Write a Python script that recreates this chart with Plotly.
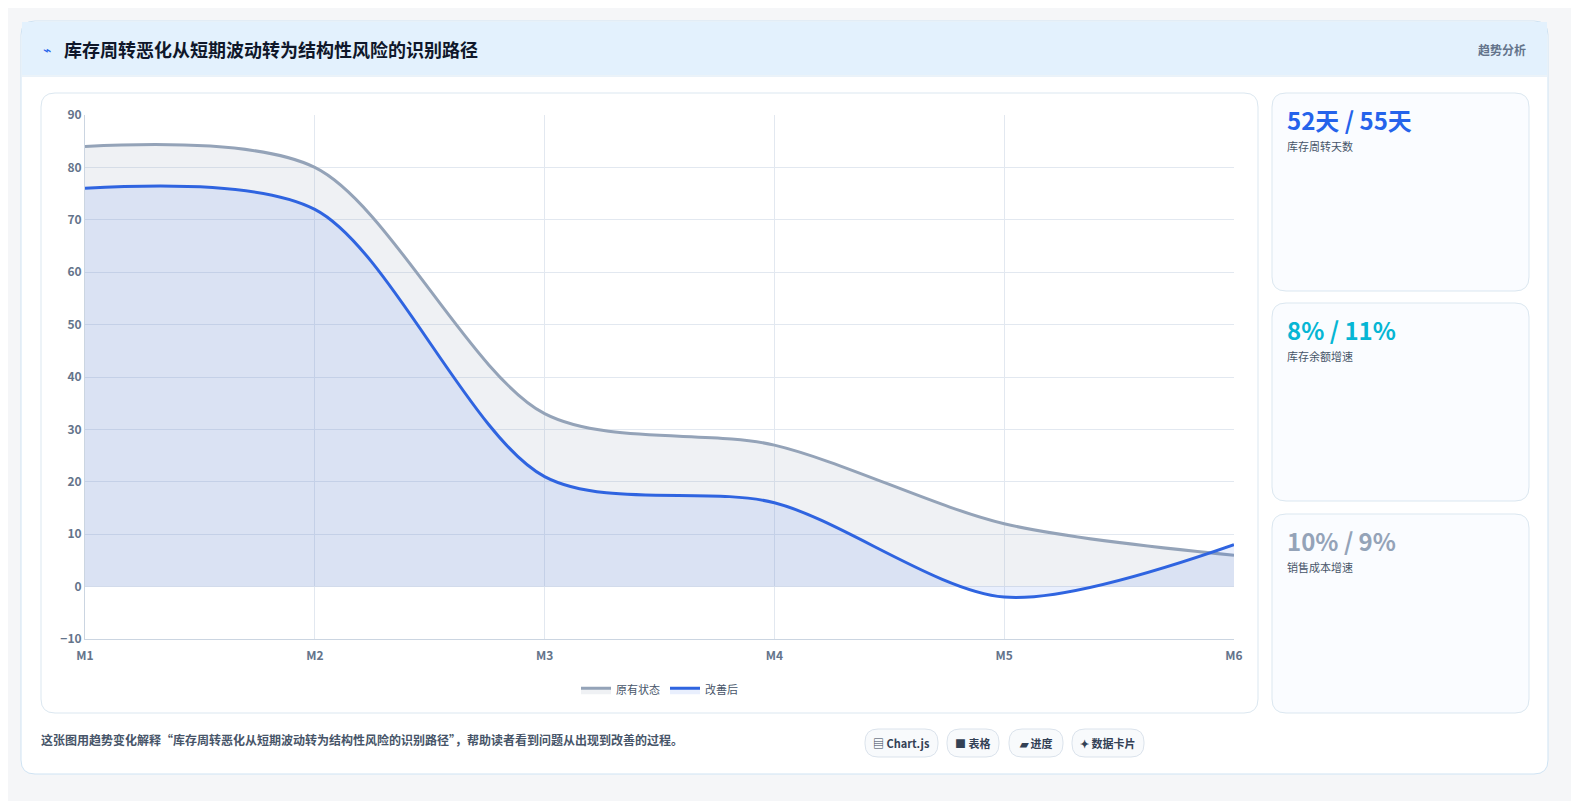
import plotly.graph_objects as go

months = ["M1", "M2", "M3", "M4", "M5", "M6"]
before = [84, 80, 33, 27, 12, 6]
after = [76, 72, 21, 16, -2, 8]

W, H = 1579, 801
OFF = 7  # page body margin compensation
L, R, T, B = 84 - OFF, 1233 - OFF, 114 - OFF, 638 - OFF


def px(x):
    return (x - OFF - L) / (R - L)


def py(y):
    return (B - (y - OFF)) / (B - T)


def rrect(x0, y0, x1, y1, r, fill, line):
    a, b, c, d = px(x0), px(x1), py(y0), py(y1)
    rx, ry = r / (R - L), r / (B - T)
    path = (f"M{a+rx},{c} L{b-rx},{c} Q{b},{c} {b},{c-ry} L{b},{d+ry} Q{b},{d} {b-rx},{d} "
            f"L{a+rx},{d} Q{a},{d} {a},{d+ry} L{a},{c-ry} Q{a},{c} {a+rx},{c} Z")
    return dict(type="path", xref="paper", yref="paper", path=path, fillcolor=fill,
                line=dict(color=line, width=1), layer="below")


xs = list(range(len(months)))
fig = go.Figure()
fig.add_trace(go.Scatter(x=xs, y=before, name="原有状态", mode="lines",
                         line=dict(color="#94a3b8", width=3, shape="spline", smoothing=0.85),
                         fill="tozeroy", fillcolor="rgba(148,163,184,0.15)"))
fig.add_trace(go.Scatter(x=xs, y=after, name="改善后", mode="lines",
                         line=dict(color="#2f64e0", width=3, shape="spline", smoothing=0.85),
                         fill="tozeroy", fillcolor="rgba(37,99,235,0.1)"))

shapes = [
    rrect(20, 20, 1547, 773, 14, "white", "#cfe3f3"),
    dict(type="rect", xref="paper", yref="paper", x0=px(21), x1=px(1546), y0=py(21), y1=py(74),
         fillcolor="#e3f1fd", line=dict(width=0), layer="below"),
    dict(type="line", xref="paper", yref="paper", x0=px(21), x1=px(1546), y0=py(75), y1=py(75),
         line=dict(color="#d6e6f3", width=1), layer="below"),
    rrect(40, 92, 1257, 712, 14, "white", "#dbe7f0"),
    rrect(1271, 92, 1528, 290, 14, "#fafcff", "#dbe7f0"),
    rrect(1271, 302, 1528, 500, 14, "#fafcff", "#dbe7f0"),
    rrect(1271, 513, 1528, 712, 14, "#fafcff", "#dbe7f0"),
]
for x0, x1 in [(864, 937), (946, 998), (1008, 1062), (1071, 1143)]:
    shapes.append(rrect(x0, 728, x1, 756, 13, "#f8fafc", "#dbe3ec"))

ann = []


def text(x, y, s, size, color, bold=False, anchor="left"):
    ann.append(dict(xref="paper", yref="paper", x=px(x), y=py(y), text=f"<b>{s}</b>" if bold else s,
                    showarrow=False, xanchor=anchor, yanchor="middle",
                    font=dict(size=size, color=color)))


text(40, 48, "⌁", 14, "#2563eb")
text(61, 48, "库存周转恶化从短期波动转为结构性风险的识别路径", 18, "#0f172a", True)
text(1527, 48, "趋势分析", 12, "#64748b", True, "right")
text(1284, 118, "52天 / 55天", 24, "#2563eb", True)
text(1284, 145, "库存周转天数", 11, "#475569")
text(1284, 328, "8% / 11%", 24, "#06b6d4", True)
text(1284, 355, "库存余额增速", 11, "#475569")
text(1284, 539, "10% / 9%", 24, "#94a3b8", True)
text(1284, 566, "销售成本增速", 11, "#475569")
text(38, 738, "这张图用趋势变化解释“库存周转恶化从短期波动转为结构性风险的识别路径”，帮助读者看到问题从出现到改善的过程。",
     12, "#475569", True)
for x, s in [(900, "▤ Chart.js"), (972, "■ 表格"), (1035, "▰ 进度"), (1107, "✦ 数据卡片")]:
    text(x, 742, s, 11, "#334155", True, "center")

fig.update_layout(
    width=W, height=H,
    margin=dict(l=L, r=W - R, t=T, b=H - B),
    paper_bgcolor="#f5f6f8", plot_bgcolor="white",
    font=dict(family="Noto Sans CJK SC, Roboto, sans-serif", color="#64748b"),
    xaxis=dict(showgrid=True, gridcolor="#e2e8f0", range=[0, 5], zeroline=False,
               linecolor="#cbd5e1", showline=True, ticklabelstandoff=6,
               tickvals=xs, ticktext=months,
               tickfont=dict(size=12, color="#64748b", weight="bold")),
    yaxis=dict(range=[-10, 90], dtick=10, gridcolor="#e2e8f0", zeroline=False,
               tickfont=dict(size=12, color="#64748b", weight="bold"),
               linecolor="#cbd5e1", showline=True, separatethousands=False,
               tickformat="d"),
    separators=".,",
    showlegend=True,
    legend=dict(orientation="h", x=0.5, xanchor="center", y=-0.07, yanchor="top",
                font=dict(size=11, color="#475569"), bgcolor="rgba(0,0,0,0)"),
    shapes=shapes, annotations=ann,
)

fig.write_html("out.html")
